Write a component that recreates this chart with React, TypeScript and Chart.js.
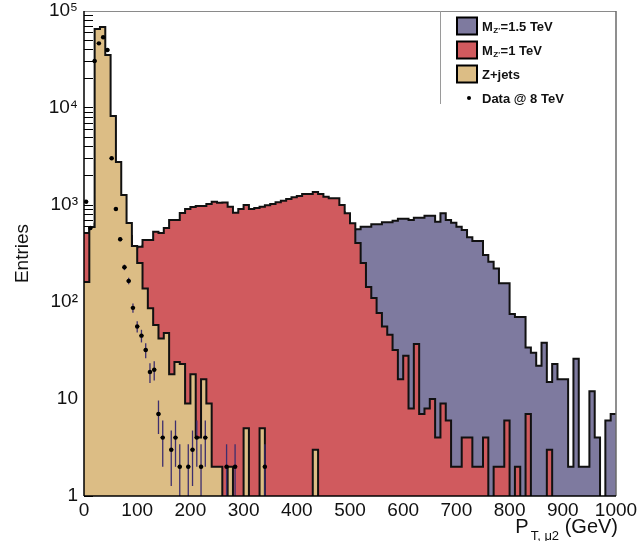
import React, { useEffect, useRef } from 'react';
import { Chart, registerables } from 'chart.js';

Chart.register(...registerables);

// ---------- axis description ----------
const BIN_WIDTH = 10; // GeV per MC histogram bin
const X_MIN = 0;
const X_MAX = 1000;
const Y_MIN = 1;
const Y_MAX = 1e5;
const X_TICKS = [0, 100, 200, 300, 400, 500, 600, 700, 800, 900, 1000];
const Y_TICKS = [1, 10, 100, 1000, 10000, 100000];
const Y_TICK_LABELS = ['1', '10', '10²', '10³', '10⁴', '10⁵'];
const Y_MINOR_MULTIPLES = [1, 2, 3, 4, 5, 6, 7, 8, 9];

// ---------- histogram heights as drawn (10 GeV bins, 0..1000 GeV) ----------
const zJets = [
  161, 593, 65200, 68400, 35200, 8280, 2770, 1270, 652, 378,
  252, 138, 86, 58, 42, 48, 18, 24, 23, 9,
  18, 4, 16, 9, 2, 2, 0, 2, 0, 0,
  5, 0, 0, 5, 0, 0, 0, 0, 0, 0,
  0, 0, 0, 3, 0, 0, 0, 0, 0, 0,
  0, 0, 0, 0, 0, 0, 0, 0, 0, 0,
  0, 0, 0, 0, 0, 0, 0, 0, 0, 0,
  0, 0, 0, 0, 0, 0, 0, 0, 0, 0,
  0, 0, 0, 0, 0, 0, 0, 0, 0, 0,
  0, 0, 0, 0, 0, 0, 0, 0, 0, 0,
];

const zPrime1TeV = [
  514, 590, 640, 700, 720, 700, 650, 560, 480, 360,
  372, 436, 436, 530, 514, 580, 700, 700, 828, 910,
  953, 977, 977, 1024, 1081, 1053, 1060, 960, 833, 910,
  1000, 910, 932, 960, 993, 1024, 1065, 1107, 1153, 1200,
  1238, 1298, 1298, 1362, 1298, 1218, 1172, 1172, 1000, 821,
  648, 405, 252, 143, 110, 77, 56, 46, 32, 16,
  28, 8, 37, 7, 8, 10, 4, 9, 6, 2,
  2, 4, 4, 2, 2, 4, 0, 2, 2, 6,
  0, 2, 0, 7, 0, 0, 0, 3, 0, 0,
  0, 0, 0, 0, 0, 0, 0, 0, 0, 0,
];

const zPrime15TeV = [
  480, 500, 520, 540, 560, 560, 540, 500, 420, 340,
  340, 380, 400, 420, 440, 460, 480, 500, 520, 540,
  560, 580, 600, 620, 640, 660, 680, 700, 720, 740,
  760, 780, 800, 820, 840, 860, 880, 900, 920, 940,
  960, 950, 940, 930, 920, 900, 880, 860, 840, 800,
  560, 562, 597, 597, 632, 632, 663, 663, 689, 722,
  722, 700, 740, 740, 776, 776, 673, 821, 700, 658,
  597, 552, 465, 425, 425, 305, 260, 222, 156, 156,
  75, 70, 70, 34, 30, 22, 38, 15, 23, 16,
  16, 2, 26, 2, 2, 12, 4, 0, 6, 7,
];

// ---------- data (8 GeV bins) ----------
const DATA_BIN_WIDTH = 8;
const dataCenters = [4, 12, 20, 28, 36, 44, 52, 60, 68, 76, 84, 92, 100, 108, 116, 124, 132, 140, 148, 164, 172, 180, 196, 204, 212, 220, 228, 268, 284, 340];
const dataCounts = [1080, 580, 30500, 46400, 53600, 39600, 3030, 910, 443, 228, 165, 87, 56, 45, 32, 19, 20, 7, 4, 3, 4, 2, 2, 3, 4, 2, 4, 2, 2, 2];

// ---------- styles ----------
const FONT = '"Liberation Sans", Arial, Helvetica, sans-serif';
const PURPLE = '#7e7a9f';
const RED = '#d05a5e';
const TAN = '#dcbd85';
const OUTLINE = '#111111';
const ERR_COLOR = '#3d2e6e';
const EMPTY_LEVEL = 0.01; // below axis minimum, used for empty bins on the log axis

// all y tick positions (majors + minors) for the inner ROOT-style tick marks
const Y_ALL_TICKS: number[] = [];
for (let d = 0; d < Y_TICKS.length; d++) {
  const mults = d === Y_TICKS.length - 1 ? [1] : Y_MINOR_MULTIPLES;
  for (const m of mults) Y_ALL_TICKS.push(m * Y_TICKS[d]);
}

function histogramPoints(values: number[]) {
  const pts = values.map((v, i) => ({ x: X_MIN + i * BIN_WIDTH, y: v > 0 ? v : EMPTY_LEVEL }));
  const last = values[values.length - 1];
  pts.push({ x: X_MIN + values.length * BIN_WIDTH, y: last > 0 ? last : EMPTY_LEVEL });
  return pts;
}

const legendItems = [
  { main: 'M', sub: "Z'", rest: '=1.5 TeV', color: PURPLE },
  { main: 'M', sub: "Z'", rest: '=1 TeV', color: RED },
  { main: 'Z+jets', sub: '', rest: '', color: TAN },
  { main: 'Data @ 8 TeV', sub: '', rest: '', color: '' },
];

const errorBarPlugin = {
  id: 'errorBars',
  beforeDatasetDraw(chart: any, args: any) {
    if (args.index !== 0) return;
    const { ctx, chartArea, scales } = chart;
    const xs = scales.x;
    const ys = scales.y;
    ctx.save();
    ctx.beginPath();
    ctx.rect(chartArea.left, chartArea.top, chartArea.right - chartArea.left, chartArea.bottom - chartArea.top);
    ctx.clip();
    dataCenters.forEach((c, i) => {
      const n = dataCounts[i];
      const err = Math.sqrt(n);
      const px = xs.getPixelForValue(c);
      const py = ys.getPixelForValue(n);
      const yHi = ys.getPixelForValue(n + err);
      const lo = n - err;
      const yLo = lo > 0 ? ys.getPixelForValue(lo) : chartArea.bottom;
      ctx.strokeStyle = ERR_COLOR;
      ctx.lineWidth = 1.3;
      ctx.beginPath();
      ctx.moveTo(px, yHi);
      ctx.lineTo(px, yLo);
      ctx.stroke();
      ctx.strokeStyle = '#000';
      ctx.lineWidth = 1.2;
      ctx.beginPath();
      ctx.moveTo(xs.getPixelForValue(c - DATA_BIN_WIDTH / 2), py);
      ctx.lineTo(xs.getPixelForValue(c + DATA_BIN_WIDTH / 2), py);
      ctx.stroke();
    });
    ctx.restore();
  },
};

const overlayPlugin = {
  id: 'overlay',
  afterDraw(chart: any) {
    const { ctx, chartArea } = chart;
    const { left, right, top, bottom } = chartArea;
    ctx.save();
    // frame
    ctx.strokeStyle = '#8a8a8a';
    ctx.lineWidth = 1;
    ctx.beginPath();
    ctx.moveTo(left, top + 0.5);
    ctx.lineTo(right, top + 0.5);
    ctx.stroke();
    ctx.strokeStyle = '#6a6a6a';
    ctx.lineWidth = 1.5;
    ctx.beginPath();
    ctx.moveTo(right, top);
    ctx.lineTo(right, bottom);
    ctx.stroke();
    ctx.strokeStyle = '#000';
    ctx.lineWidth = 1.5;
    ctx.beginPath();
    ctx.moveTo(left, top);
    ctx.lineTo(left, bottom);
    ctx.moveTo(left, bottom);
    ctx.lineTo(right, bottom);
    ctx.stroke();

    // legend
    ctx.strokeStyle = '#9a9a9a';
    ctx.lineWidth = 1;
    ctx.beginPath();
    ctx.moveTo(440.5, top);
    ctx.lineTo(440.5, 104);
    ctx.stroke();
    const rowY = [26, 50, 74, 98];
    legendItems.forEach((it, i) => {
      const cy = rowY[i];
      if (it.color) {
        ctx.fillStyle = it.color;
        ctx.fillRect(457, cy - 8.5, 20, 17);
        ctx.strokeStyle = '#000';
        ctx.lineWidth = 2;
        ctx.strokeRect(457, cy - 8.5, 20, 17);
      } else {
        ctx.fillStyle = '#000';
        ctx.beginPath();
        ctx.arc(469, cy, 2, 0, Math.PI * 2);
        ctx.fill();
      }
      ctx.fillStyle = '#111';
      ctx.textAlign = 'left';
      ctx.textBaseline = 'alphabetic';
      let x = 482;
      const base = cy + 4.7;
      ctx.font = `bold 13px ${FONT}`;
      ctx.fillText(it.main, x, base);
      x += ctx.measureText(it.main).width;
      if (it.sub) {
        ctx.font = `bold 8px ${FONT}`;
        ctx.fillText(it.sub, x + 0.5, base + 2.5);
        x += ctx.measureText(it.sub).width + 1;
        ctx.font = `bold 13px ${FONT}`;
        ctx.fillText(it.rest, x, base);
      }
    });

    // x-axis title  P_{T, mu2} (GeV)
    const mainFont = `20px ${FONT}`;
    const subFont = `13px ${FONT}`;
    ctx.font = mainFont;
    const wP = ctx.measureText('P').width;
    const wG = ctx.measureText(' (GeV)').width;
    ctx.font = subFont;
    const wS = ctx.measureText('T, μ2').width;
    const xEnd = 618;
    let tx = xEnd - (wP + 2 + wS + wG);
    ctx.fillStyle = '#111';
    ctx.font = mainFont;
    ctx.fillText('P', tx, 533);
    tx += wP + 2;
    ctx.font = subFont;
    ctx.fillText('T, μ2', tx, 539.5);
    tx += wS;
    ctx.font = mainFont;
    ctx.fillText(' (GeV)', tx, 533);
    ctx.restore();
  },
};

export default function App() {
  const canvasRef = useRef<HTMLCanvasElement | null>(null);

  useEffect(() => {
    const canvas = canvasRef.current;
    if (!canvas) return;
    const histStyle = (color: string) => ({
      stepped: 'before' as const,
      fill: 'start',
      backgroundColor: color,
      borderColor: OUTLINE,
      borderWidth: 2,
      pointRadius: 0,
      pointHoverRadius: 0,
      tension: 0,
    });
    const chart = new Chart(canvas, {
      type: 'line',
      data: {
        datasets: [
          {
            label: 'Data @ 8 TeV',
            data: dataCenters.map((c, i) => ({ x: c, y: dataCounts[i] })),
            showLine: false,
            pointRadius: 2.2,
            pointHoverRadius: 0,
            pointBackgroundColor: '#000',
            pointBorderWidth: 0,
            borderColor: '#000',
          } as any,
          { label: 'Z+jets', data: histogramPoints(zJets), ...histStyle(TAN) } as any,
          { label: "M_Z'=1 TeV", data: histogramPoints(zPrime1TeV), ...histStyle(RED) } as any,
          { label: "M_Z'=1.5 TeV", data: histogramPoints(zPrime15TeV), ...histStyle(PURPLE) } as any,
        ],
      },
      options: {
        responsive: false,
        animation: false,
        events: [],
        parsing: true,
        layout: { padding: { top: 11, right: 26, left: 0, bottom: 0 } },
        plugins: {
          legend: { display: false },
          tooltip: { enabled: false },
        },
        scales: {
          x: {
            type: 'linear',
            min: X_MIN,
            max: X_MAX,
            afterFit: (s: any) => {
              s.height = 45;
              s.paddingLeft = 0;
              s.paddingRight = 0;
            },
            afterBuildTicks: (s: any) => { s.ticks = X_TICKS.map((v) => ({ value: v })); },
            ticks: {
              autoSkip: false,
              maxRotation: 0,
              padding: 3,
              color: '#111',
              font: { size: 19, family: FONT },
              callback: (v: any) => String(v),
            },
            grid: { display: false, drawTicks: false },
            border: { display: false },
          },
          y: {
            type: 'logarithmic',
            min: Y_MIN,
            max: Y_MAX,
            afterFit: (s: any) => {
              s.width = 84;
              s.paddingTop = 0;
              s.paddingBottom = 0;
            },
            afterBuildTicks: (s: any) => { s.ticks = Y_ALL_TICKS.map((v) => ({ value: v })); },
            ticks: {
              autoSkip: false,
              padding: 15,
              color: '#111',
              font: { size: 19, family: FONT },
              callback: (v: any) => {
                const k = Y_TICKS.indexOf(Number(v));
                return k >= 0 ? Y_TICK_LABELS[k] : '';
              },
            },
            grid: {
              display: true,
              drawOnChartArea: false,
              drawTicks: true,
              tickLength: -9,
              tickColor: '#000',
              tickWidth: 1,
              color: '#000',
              lineWidth: 1,
            },
            border: { display: false },
            title: {
              display: true,
              text: 'Entries',
              color: '#111',
              font: { size: 19, family: FONT },
              padding: { top: 11, bottom: 0 },
            },
          },
        },
      } as any,
      plugins: [errorBarPlugin, overlayPlugin],
    });
    return () => chart.destroy();
  }, []);

  return (
    <div style={{ position: 'absolute', left: 0, top: 0, width: 642, height: 541, background: '#fff' }}>
      <canvas ref={canvasRef} width={642} height={541} style={{ display: 'block', width: 642, height: 541 }} />
    </div>
  );
}
